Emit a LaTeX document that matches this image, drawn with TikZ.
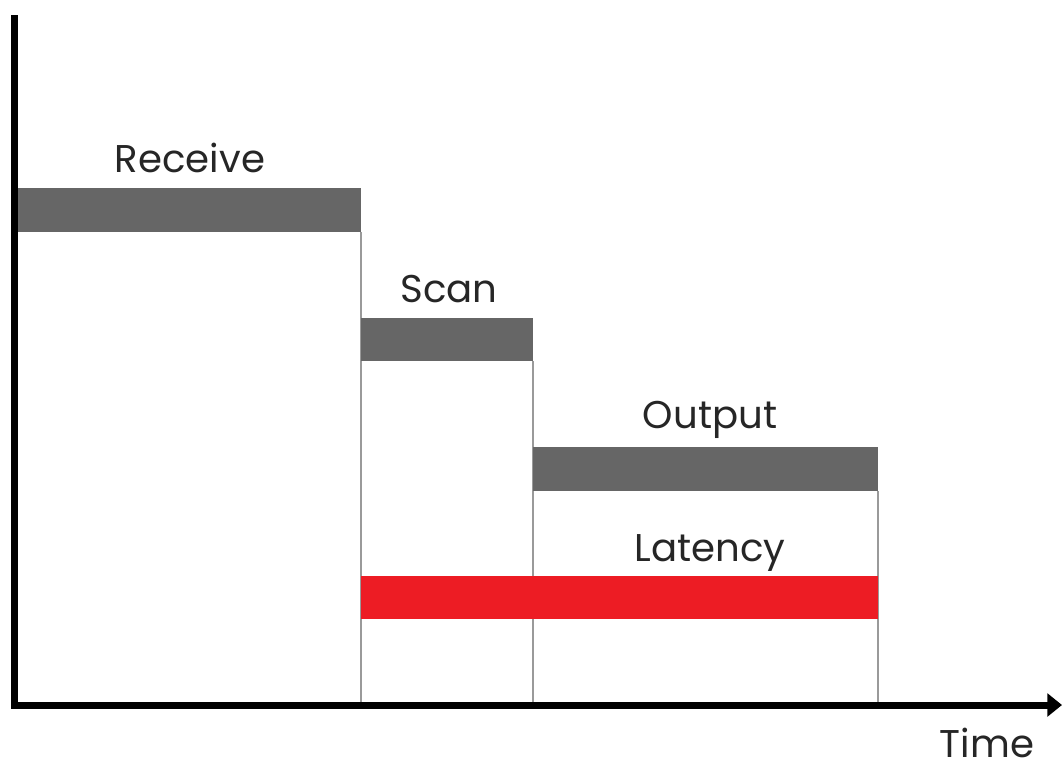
\documentclass[tikz,border=0pt]{standalone}
\usepackage{fontspec}
\setmainfont{Poppins}
\usetikzlibrary{arrows.meta,fit}
\definecolor{bargray}{HTML}{666666}
\definecolor{latred}{HTML}{ED1C24}
\definecolor{guidegray}{HTML}{9A9A9A}
\tikzset{
  bar/.style={rectangle, draw=none, fill=bargray, inner sep=0pt, outer sep=0pt},
  redbar/.style={bar, fill=latred},
  guide/.style={draw=guidegray, line width=1.5pt},
  axis/.style={draw=black, line width=5.25pt, line join=miter},
  phase/.style={anchor=base, text=black!85, font=\fontsize{29}{32}\selectfont, inner sep=0pt}
}
\begin{document}
\begin{tikzpicture}[x=0.75pt,y=-0.75pt]
\useasboundingbox (0,0) rectangle (1062,769);
% axes
\coordinate (ytop) at (14.5,15);
\coordinate (origin) at (14.5,705);
\coordinate (xend) at (1062,705);
% bar corners
\coordinate (r1) at (16,188);  \coordinate (r2) at (361,232);
\coordinate (s1) at (361,318); \coordinate (s2) at (533,361);
\coordinate (o1) at (533,447); \coordinate (o2) at (878,491);
\coordinate (l1) at (361,576); \coordinate (l2) at (878,619);
% guide lines down to the time axis
\draw[guide] (r2) -- (r2 |- origin);
\draw[guide] (s2) -- (s2 |- origin);
\draw[guide] (o2) -- (o2 |- origin);
% phases
\node[bar, fit=(r1)(r2)] (receive) {};
\node[bar, fit=(s1)(s2)] (scan) {};
\node[bar, fit=(o1)(o2)] (output) {};
\node[redbar, fit=(l1)(l2)] (latency) {};
\node[phase] (receivelbl) at (190,172) {Receive};
\node[phase] (scanlbl) at (449,302) {Scan};
\node[phase] (outputlbl) at (710,428) {Output};
\node[phase] (latencylbl) at (710,561) {Latency};
% axes on top
\draw[axis, -{Triangle[length=11pt,width=17pt]}] (ytop) -- (origin) -- (xend);
\node[phase] (timelbl) at (987,757) {Time};
\end{tikzpicture}
\end{document}
